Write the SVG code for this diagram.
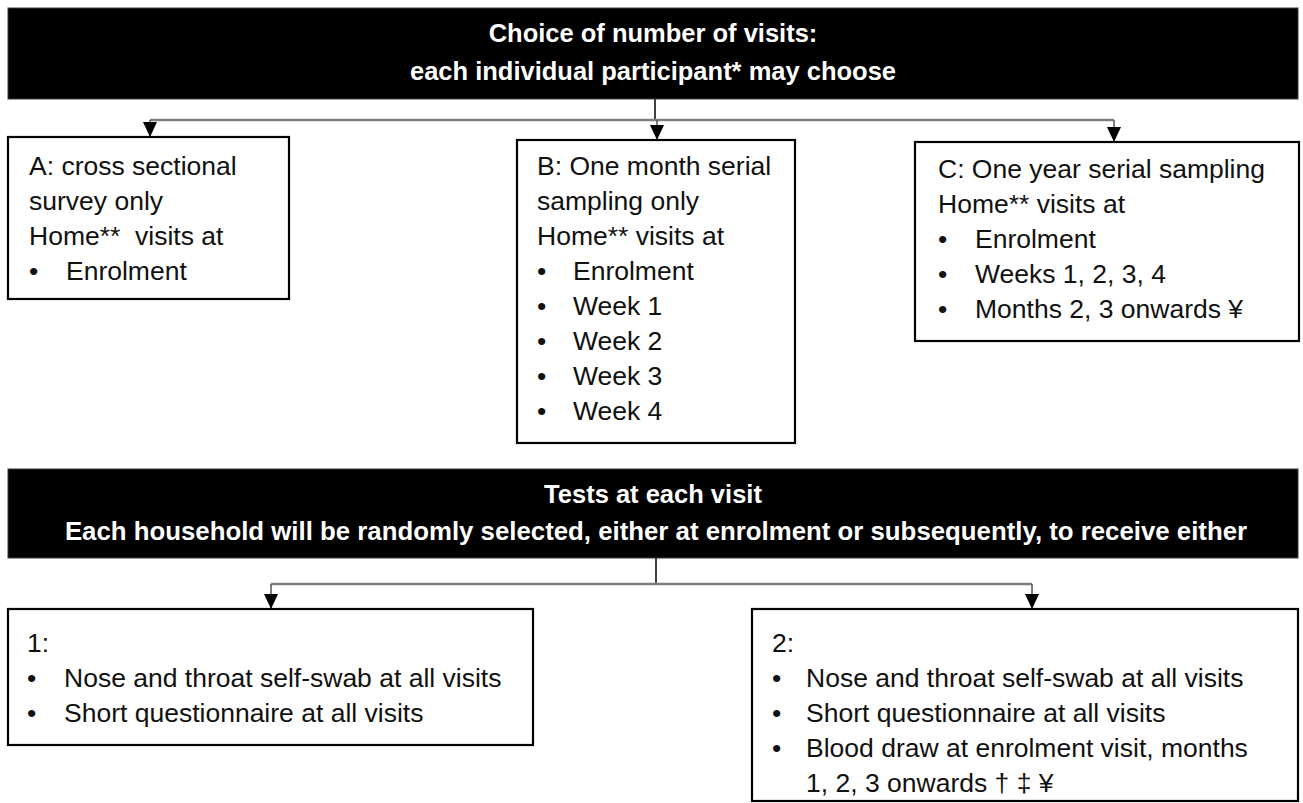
<svg xmlns="http://www.w3.org/2000/svg" width="1303" height="803" viewBox="0 0 1303 803">
<defs>
<style>
.bar{fill:#000;stroke:#3a3a3a;stroke-width:1}
.box{fill:#fff;stroke:#000;stroke-width:2.2}
.h{font-family:"Liberation Sans",Arial,sans-serif;font-weight:bold;font-size:25.5px;fill:#fff;text-anchor:middle}
.t{font-family:"Liberation Sans",Arial,sans-serif;font-size:26.5px;fill:#111}
.hl{fill:none;stroke:#7f7f7f;stroke-width:2.5}
.tr{fill:none;stroke:#000;stroke-width:1.5}
.dr{fill:none;stroke:#555;stroke-width:1.5}
</style>
<marker id="arr" markerUnits="userSpaceOnUse" markerWidth="16" markerHeight="16" refX="15" refY="7" orient="auto">
<path d="M0,0 L15,7 L0,14 Z" fill="#000"/>
</marker>
</defs>
<rect width="1303" height="803" fill="#fff"/>

<g id="connectors">
<path class="tr" d="M655 99 V120"/>
<path class="hl" d="M150 120 H1114"/>
<path class="dr" d="M150 120 V137" marker-end="url(#arr)"/>
<path class="dr" d="M657 120 V140" marker-end="url(#arr)"/>
<path class="dr" d="M1114 120 V142" marker-end="url(#arr)"/>
<path class="tr" d="M656 558 V584"/>
<path class="hl" d="M271 584 H1032"/>
<path class="dr" d="M271 584 V609" marker-end="url(#arr)"/>
<path class="dr" d="M1032 584 V609" marker-end="url(#arr)"/>
</g>

<g id="header-choice">
<rect class="bar" x="8" y="8" width="1290" height="91"/>
<text class="h" x="653" y="42">Choice of number of visits:</text>
<text class="h" x="653" y="80">each individual participant* may choose</text>
</g>

<g id="box-a">
<rect class="box" x="8" y="137" width="281" height="162"/>
<text class="t" x="29" y="175">A: cross sectional</text>
<text class="t" x="29" y="210">survey only</text>
<text class="t" x="29" y="245" xml:space="preserve">Home**  visits at</text>
<text class="t" x="29" y="280">•</text>
<text class="t" x="66" y="280">Enrolment</text>
</g>

<g id="box-b">
<rect class="box" x="517" y="140" width="278" height="303"/>
<text class="t" x="537" y="175">B: One month serial</text>
<text class="t" x="537" y="210">sampling only</text>
<text class="t" x="537" y="245">Home** visits at</text>
<text class="t" x="537" y="280">•</text>
<text class="t" x="573" y="280">Enrolment</text>
<text class="t" x="537" y="315">•</text>
<text class="t" x="573" y="315">Week 1</text>
<text class="t" x="537" y="350">•</text>
<text class="t" x="573" y="350">Week 2</text>
<text class="t" x="537" y="385">•</text>
<text class="t" x="573" y="385">Week 3</text>
<text class="t" x="537" y="420">•</text>
<text class="t" x="573" y="420">Week 4</text>
</g>

<g id="box-c">
<rect class="box" x="915" y="142" width="384" height="199"/>
<text class="t" x="938" y="178">C: One year serial sampling</text>
<text class="t" x="938" y="213">Home** visits at</text>
<text class="t" x="938" y="248">•</text>
<text class="t" x="975" y="248">Enrolment</text>
<text class="t" x="938" y="283">•</text>
<text class="t" x="975" y="283">Weeks 1, 2, 3, 4</text>
<text class="t" x="938" y="318">•</text>
<text class="t" x="975" y="318">Months 2, 3 onwards ¥</text>
</g>

<g id="header-tests">
<rect class="bar" x="8" y="469" width="1290" height="89"/>
<text class="h" x="653" y="503">Tests at each visit</text>
<text class="h" x="656" y="540" style="font-size:25.8px">Each household will be randomly selected, either at enrolment or subsequently, to receive either</text>
</g>

<g id="box-1">
<rect class="box" x="8" y="609" width="525" height="136"/>
<text class="t" x="27" y="652">1:</text>
<text class="t" x="27" y="687">•</text>
<text class="t" x="64" y="687">Nose and throat self-swab at all visits</text>
<text class="t" x="27" y="722">•</text>
<text class="t" x="64" y="722">Short questionnaire at all visits</text>
</g>

<g id="box-2">
<rect class="box" x="752" y="609" width="546" height="192"/>
<text class="t" x="772" y="652">2:</text>
<text class="t" x="772" y="687">•</text>
<text class="t" x="806" y="687">Nose and throat self-swab at all visits</text>
<text class="t" x="772" y="722">•</text>
<text class="t" x="806" y="722">Short questionnaire at all visits</text>
<text class="t" x="772" y="757">•</text>
<text class="t" x="806" y="757">Blood draw at enrolment visit, months</text>
<text class="t" x="806" y="792">1, 2, 3 onwards † ‡ ¥</text>
</g>
</svg>
